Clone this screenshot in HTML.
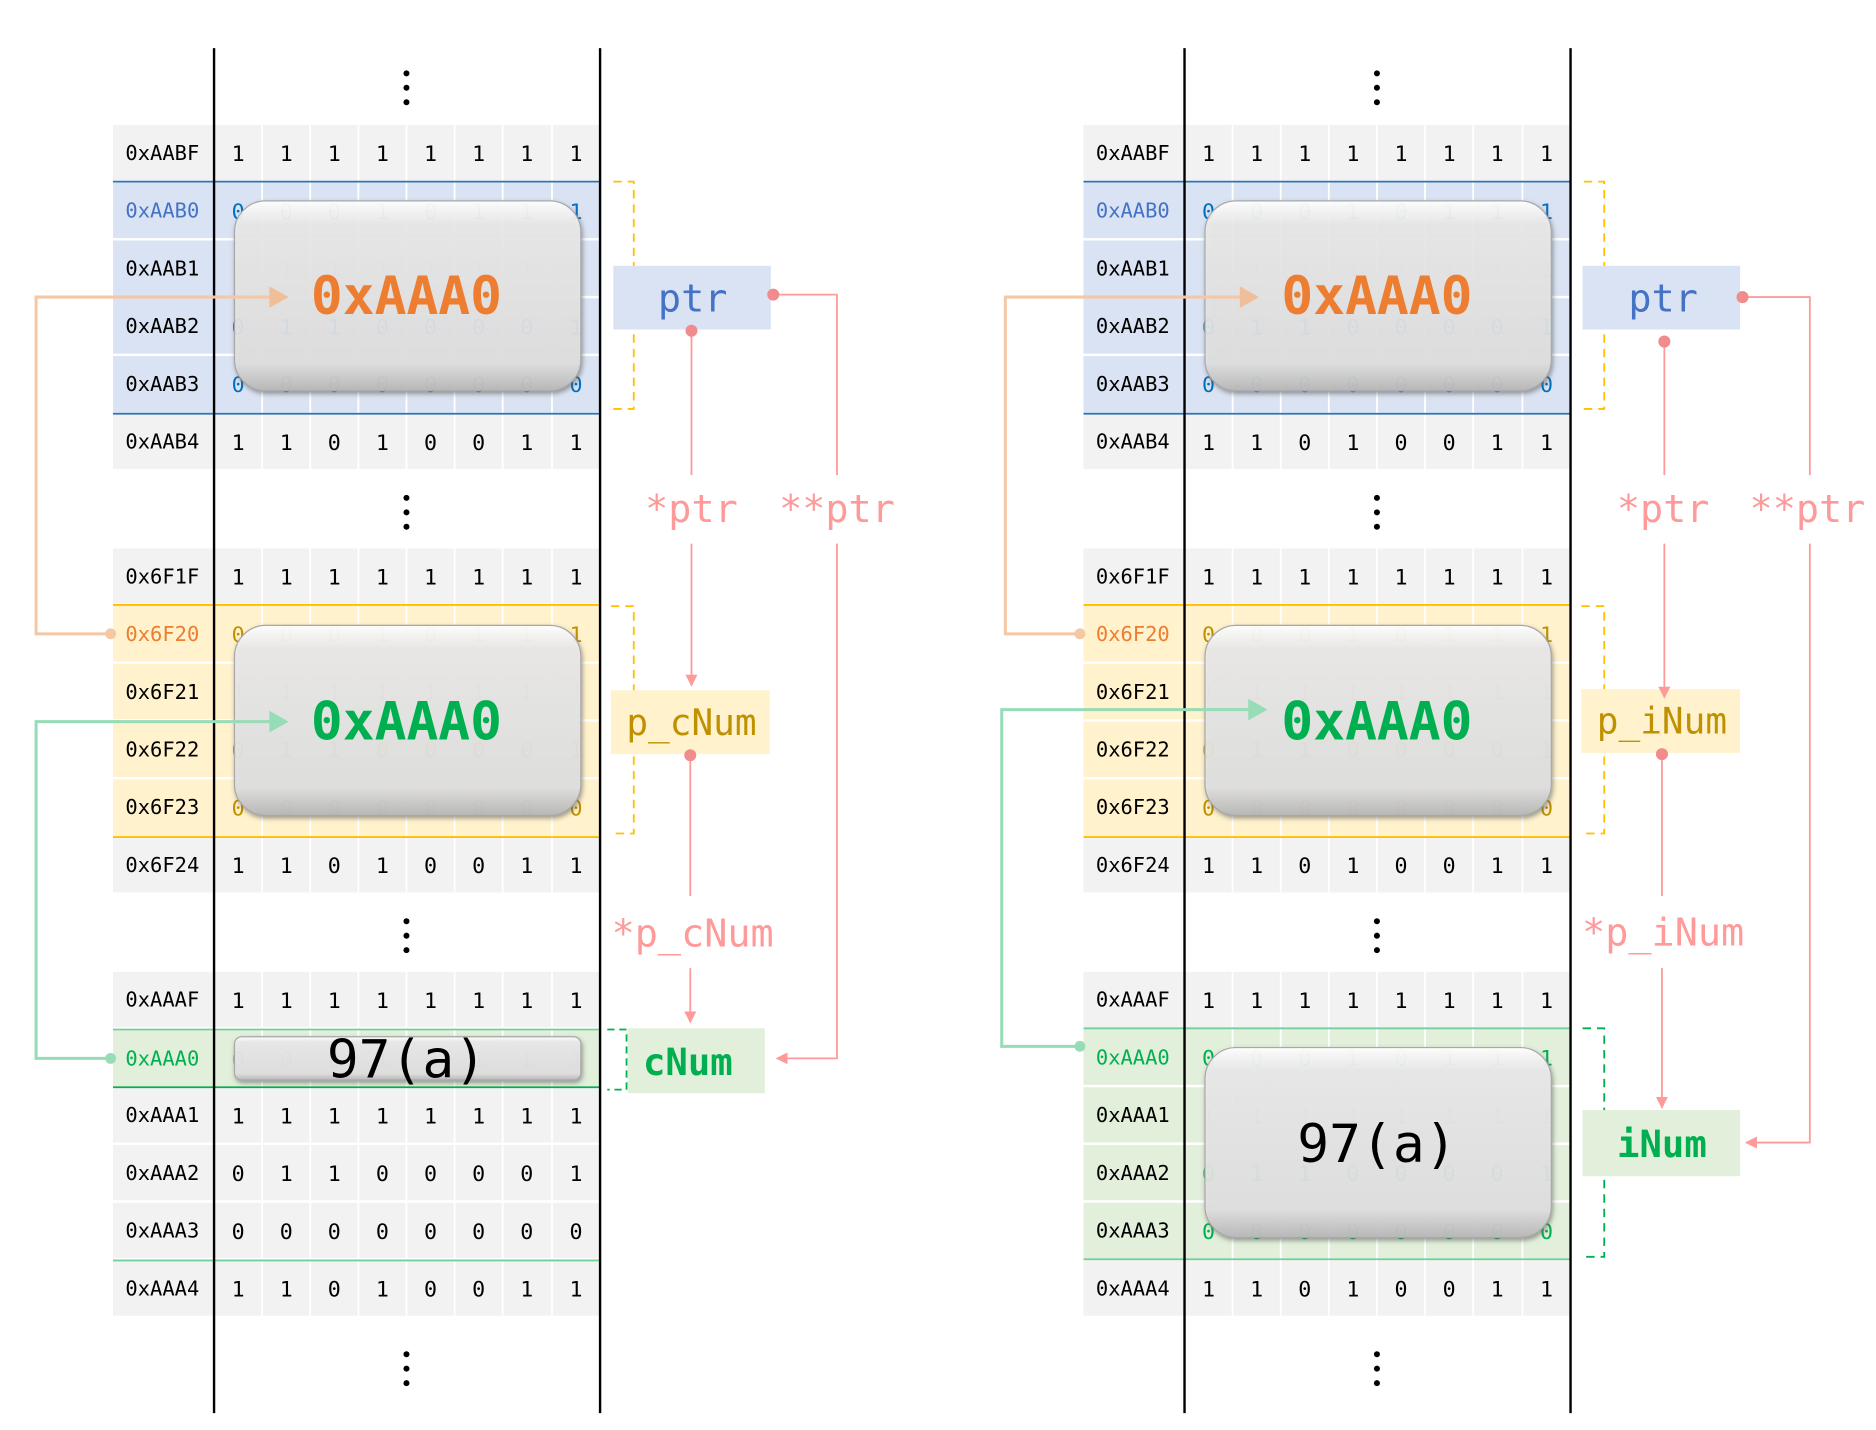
<!DOCTYPE html>
<html><head><meta charset="utf-8"><style>
html,body{margin:0;padding:0;background:#fff;}
svg{display:block;}
text{font-family:"DejaVu Sans Mono","Liberation Mono",monospace;}
</style></head><body>
<svg width="1876" height="1430" viewBox="0 0 1560 1189" preserveAspectRatio="none" xmlns="http://www.w3.org/2000/svg">
<defs>
<linearGradient id="gl" x1="0" y1="0" x2="0" y2="1">
<stop offset="0" stop-color="#ffffff" stop-opacity="0.95"/>
<stop offset="0.12" stop-color="#ececec" stop-opacity="0.9"/>
<stop offset="0.85" stop-color="#e2e2e2" stop-opacity="0.9"/>
<stop offset="1" stop-color="#b8b8b8" stop-opacity="0.95"/>
</linearGradient>
<filter id="sh" x="-10%" y="-10%" width="120%" height="130%"><feDropShadow dx="1" dy="2" stdDeviation="2" flood-color="#555" flood-opacity="0.6"/></filter>
<marker id="ap" markerWidth="10" markerHeight="10" refX="9" refY="5" orient="auto" markerUnits="userSpaceOnUse"><path d="M0,0 L10,5 L0,10 Z" fill="#ff9a9a"/></marker>
</defs>

<!-- ================= LEFT PANEL ================= -->
<g id="L">
<!-- row backgrounds -->
<g fill="#f2f2f2">
<rect x="94" y="104" width="405" height="46"/><rect x="94" y="344" width="405" height="46"/>
<rect x="94" y="456" width="405" height="46"/><rect x="94" y="696" width="405" height="46"/>
<rect x="94" y="808" width="405" height="46"/>
<rect x="94" y="904" width="405" height="46"/><rect x="94" y="952" width="405" height="46"/><rect x="94" y="1000" width="405" height="46"/><rect x="94" y="1048" width="405" height="46"/>
</g>
<rect x="94" y="151" width="405" height="193" fill="#dae3f3"/>
<rect x="94" y="503" width="405" height="193" fill="#fff2cc"/>
<rect x="94" y="856" width="405" height="48" fill="#e2efda"/>
<g stroke="#fff" stroke-width="2">
<line x1="94" y1="199" x2="499" y2="199"/><line x1="94" y1="247" x2="499" y2="247"/><line x1="94" y1="295" x2="499" y2="295"/>
<line x1="94" y1="551" x2="499" y2="551"/><line x1="94" y1="599" x2="499" y2="599"/><line x1="94" y1="647" x2="499" y2="647"/>
<line x1="94" y1="951" x2="499" y2="951"/><line x1="94" y1="999" x2="499" y2="999"/>
<g stroke-width="1.5">
<line x1="218" y1="104" x2="218" y2="390"/><line x1="258" y1="104" x2="258" y2="390"/><line x1="298" y1="104" x2="298" y2="390"/><line x1="338" y1="104" x2="338" y2="390"/><line x1="378" y1="104" x2="378" y2="390"/><line x1="418" y1="104" x2="418" y2="390"/><line x1="459" y1="104" x2="459" y2="390"/>
<line x1="218" y1="456" x2="218" y2="742"/><line x1="258" y1="456" x2="258" y2="742"/><line x1="298" y1="456" x2="298" y2="742"/><line x1="338" y1="456" x2="338" y2="742"/><line x1="378" y1="456" x2="378" y2="742"/><line x1="418" y1="456" x2="418" y2="742"/><line x1="459" y1="456" x2="459" y2="742"/>
<line x1="218" y1="808" x2="218" y2="1094"/><line x1="258" y1="808" x2="258" y2="1094"/><line x1="298" y1="808" x2="298" y2="1094"/><line x1="338" y1="808" x2="338" y2="1094"/><line x1="378" y1="808" x2="378" y2="1094"/><line x1="418" y1="808" x2="418" y2="1094"/><line x1="459" y1="808" x2="459" y2="1094"/>
</g></g>
<g stroke-width="1.5">
<line x1="94" y1="151" x2="499" y2="151" stroke="#2e75b6"/><line x1="94" y1="344" x2="499" y2="344" stroke="#2e75b6"/>
<line x1="94" y1="503" x2="499" y2="503" stroke="#ffc000"/><line x1="94" y1="696" x2="499" y2="696" stroke="#ffc000"/>
<line x1="94" y1="856" x2="499" y2="856" stroke="#70d09a"/><line x1="94" y1="904" x2="499" y2="904" stroke="#00b050"/><line x1="94" y1="1048" x2="499" y2="1048" stroke="#70d09a"/>
</g>
<line x1="178" y1="40" x2="178" y2="1175" stroke="#000" stroke-width="2"/>
<line x1="499" y1="40" x2="499" y2="1175" stroke="#000" stroke-width="2"/>
<g fill="#000"><circle cx="338" cy="61" r="2.5"/><circle cx="338" cy="73" r="2.5"/><circle cx="338" cy="85" r="2.5"/>
<circle cx="338" cy="414" r="2.5"/><circle cx="338" cy="426" r="2.5"/><circle cx="338" cy="438" r="2.5"/>
<circle cx="338" cy="766" r="2.5"/><circle cx="338" cy="778" r="2.5"/><circle cx="338" cy="790" r="2.5"/>
<circle cx="338" cy="1126" r="2.5"/><circle cx="338" cy="1138" r="2.5"/><circle cx="338" cy="1150" r="2.5"/></g>
<g font-size="17" text-anchor="middle">
<text x="135" y="133">0xAABF</text><text x="135" y="181" fill="#4472c4">0xAAB0</text><text x="135" y="229">0xAAB1</text><text x="135" y="277">0xAAB2</text><text x="135" y="325">0xAAB3</text><text x="135" y="373">0xAAB4</text>
<text x="135" y="485">0x6F1F</text><text x="135" y="533" fill="#ed7d31">0x6F20</text><text x="135" y="581">0x6F21</text><text x="135" y="629">0x6F22</text><text x="135" y="677">0x6F23</text><text x="135" y="725">0x6F24</text>
<text x="135" y="837">0xAAAF</text><text x="135" y="886" fill="#00b050">0xAAA0</text><text x="135" y="933">0xAAA1</text><text x="135" y="981">0xAAA2</text><text x="135" y="1029">0xAAA3</text><text x="135" y="1077">0xAAA4</text>
</g>
<g font-size="18" text-anchor="middle">
<text x="198 238 278 318 358 398 438 479" y="134">11111111</text>
<text x="198 238 278 318 358 398 438 479" y="182" fill="#0070c0">00010111</text>
<text x="198 238 278 318 358 398 438 479" y="230" fill="#9db6cf">11111111</text>
<text x="198 238 278 318 358 398 438 479" y="278" fill="#0070c0">01100001</text>
<text x="198 238 278 318 358 398 438 479" y="326" fill="#0070c0">00000000</text>
<text x="198 238 278 318 358 398 438 479" y="374">11010011</text>
<text x="198 238 278 318 358 398 438 479" y="486">11111111</text>
<text x="198 238 278 318 358 398 438 479" y="534" fill="#c09000">00010111</text>
<text x="198 238 278 318 358 398 438 479" y="582" fill="#c8b890">11111111</text>
<text x="198 238 278 318 358 398 438 479" y="630" fill="#c09000">01100001</text>
<text x="198 238 278 318 358 398 438 479" y="678" fill="#c09000">00000000</text>
<text x="198 238 278 318 358 398 438 479" y="726">11010011</text>
<text x="198 238 278 318 358 398 438 479" y="838">11111111</text>
<text x="198 238 278 318 358 398 438 479" y="887" fill="#80c0a0">00010111</text>
<text x="198 238 278 318 358 398 438 479" y="934">11111111</text>
<text x="198 238 278 318 358 398 438 479" y="982">01100001</text>
<text x="198 238 278 318 358 398 438 479" y="1030">00000000</text>
<text x="198 238 278 318 358 398 438 479" y="1078">11010011</text>
</g>
<!-- glass boxes -->
<rect x="195" y="167" width="288" height="158" rx="26" fill="url(#gl)" stroke="#a8a8a8" filter="url(#sh)"/>
<rect x="195" y="520" width="288" height="158" rx="26" fill="url(#gl)" stroke="#a8a8a8" filter="url(#sh)"/>
<rect x="195" y="862" width="288" height="36" rx="6" fill="url(#gl)" stroke="#a8a8a8" filter="url(#sh)"/>
<text x="338" y="261" font-size="44" font-weight="bold" fill="#ed7d31" text-anchor="middle">0xAAA0</text>
<text x="338" y="615" font-size="44" font-weight="bold" fill="#00b050" text-anchor="middle">0xAAA0</text>
<text x="338" y="896" font-size="44" fill="#000" text-anchor="middle">97(a)</text>
<!-- left connectors -->
<path d="M92,527 H30 V247 H226" fill="none" stroke="#f4c7a5" stroke-width="2.5"/>
<path d="M224,238 L240,247 L224,256 Z" fill="#f0bf9a"/>
<circle cx="92" cy="527" r="4.5" fill="#f4c7a5"/>
<path d="M92,880 H30 V600 H226" fill="none" stroke="#96dcb6" stroke-width="2.5"/>
<path d="M224,591 L240,600 L224,609 Z" fill="#96dcb6"/>
<circle cx="92" cy="880" r="4.5" fill="#96dcb6"/>
<!-- brackets -->
<path d="M510,151 H527 V340 H510" fill="none" stroke="#ffc000" stroke-width="1.5" stroke-dasharray="7,5"/>
<path d="M508,504 H527 V693 H508" fill="none" stroke="#ffc000" stroke-width="1.5" stroke-dasharray="7,5"/>
<path d="M505,856 H521 V906 H505" fill="none" stroke="#00b050" stroke-width="1.5" stroke-dasharray="6,4"/>
<!-- labels -->
<rect x="510" y="221" width="131" height="53" fill="#dae3f3"/>
<text x="576" y="259" font-size="32" fill="#4472c4" text-anchor="middle">ptr</text>
<rect x="508" y="574" width="132" height="53" fill="#fff2cc"/>
<text x="575" y="611" font-size="30" fill="#bf9000" text-anchor="middle">p_cNum</text>
<rect x="522" y="855" width="114" height="54" fill="#e2efda"/>
<text x="572" y="894" font-size="31" font-weight="bold" fill="#00b050" text-anchor="middle">cNum</text>
<g fill="none" stroke="#ff9a9a" stroke-width="1.5">
<path d="M643,245 H696 V395"/><path d="M696,452 V880 H646" marker-end="url(#ap)"/>
<path d="M575,275 V395"/><path d="M575,452 V570" marker-end="url(#ap)"/>
<path d="M574,628 V745"/><path d="M574,805 V850" marker-end="url(#ap)"/>
</g>
<g fill="#f28b8b"><circle cx="643" cy="245" r="5"/><circle cx="575" cy="275" r="5"/><circle cx="574" cy="628" r="5"/></g>
<g font-size="32" fill="#ff9a9a" text-anchor="middle">
<text x="575" y="434">*ptr</text><text x="696" y="434">**ptr</text><text x="576" y="787">*p_cNum</text>
</g>
</g>

<!-- ================= RIGHT PANEL ================= -->
<g transform="translate(807,0)">
<g fill="#f2f2f2">
<rect x="94" y="104" width="405" height="46"/><rect x="94" y="344" width="405" height="46"/>
<rect x="94" y="456" width="405" height="46"/><rect x="94" y="696" width="405" height="46"/>
<rect x="94" y="808" width="405" height="46"/>
<rect x="94" y="1048" width="405" height="46"/>
</g>
<rect x="94" y="151" width="405" height="193" fill="#dae3f3"/>
<rect x="94" y="503" width="405" height="193" fill="#fff2cc"/>
<rect x="94" y="855" width="405" height="193" fill="#e2efda"/>
<g stroke="#fff" stroke-width="2">
<line x1="94" y1="199" x2="499" y2="199"/><line x1="94" y1="247" x2="499" y2="247"/><line x1="94" y1="295" x2="499" y2="295"/>
<line x1="94" y1="551" x2="499" y2="551"/><line x1="94" y1="599" x2="499" y2="599"/><line x1="94" y1="647" x2="499" y2="647"/>
<line x1="94" y1="903" x2="499" y2="903"/><line x1="94" y1="951" x2="499" y2="951"/><line x1="94" y1="999" x2="499" y2="999"/>
<g stroke-width="1.5">
<line x1="218" y1="104" x2="218" y2="390"/><line x1="258" y1="104" x2="258" y2="390"/><line x1="298" y1="104" x2="298" y2="390"/><line x1="338" y1="104" x2="338" y2="390"/><line x1="378" y1="104" x2="378" y2="390"/><line x1="418" y1="104" x2="418" y2="390"/><line x1="459" y1="104" x2="459" y2="390"/>
<line x1="218" y1="456" x2="218" y2="742"/><line x1="258" y1="456" x2="258" y2="742"/><line x1="298" y1="456" x2="298" y2="742"/><line x1="338" y1="456" x2="338" y2="742"/><line x1="378" y1="456" x2="378" y2="742"/><line x1="418" y1="456" x2="418" y2="742"/><line x1="459" y1="456" x2="459" y2="742"/>
<line x1="218" y1="808" x2="218" y2="1094"/><line x1="258" y1="808" x2="258" y2="1094"/><line x1="298" y1="808" x2="298" y2="1094"/><line x1="338" y1="808" x2="338" y2="1094"/><line x1="378" y1="808" x2="378" y2="1094"/><line x1="418" y1="808" x2="418" y2="1094"/><line x1="459" y1="808" x2="459" y2="1094"/>
</g></g>
<g stroke-width="1.5">
<line x1="94" y1="151" x2="499" y2="151" stroke="#2e75b6"/><line x1="94" y1="344" x2="499" y2="344" stroke="#2e75b6"/>
<line x1="94" y1="503" x2="499" y2="503" stroke="#ffc000"/><line x1="94" y1="696" x2="499" y2="696" stroke="#ffc000"/>
<line x1="94" y1="855" x2="499" y2="855" stroke="#70d09a"/><line x1="94" y1="1047" x2="499" y2="1047" stroke="#70d09a"/>
</g>
<line x1="178" y1="40" x2="178" y2="1175" stroke="#000" stroke-width="2"/>
<line x1="499" y1="40" x2="499" y2="1175" stroke="#000" stroke-width="2"/>
<g fill="#000"><circle cx="338" cy="61" r="2.5"/><circle cx="338" cy="73" r="2.5"/><circle cx="338" cy="85" r="2.5"/>
<circle cx="338" cy="414" r="2.5"/><circle cx="338" cy="426" r="2.5"/><circle cx="338" cy="438" r="2.5"/>
<circle cx="338" cy="766" r="2.5"/><circle cx="338" cy="778" r="2.5"/><circle cx="338" cy="790" r="2.5"/>
<circle cx="338" cy="1126" r="2.5"/><circle cx="338" cy="1138" r="2.5"/><circle cx="338" cy="1150" r="2.5"/></g>
<g font-size="17" text-anchor="middle">
<text x="135" y="133">0xAABF</text><text x="135" y="181" fill="#4472c4">0xAAB0</text><text x="135" y="229">0xAAB1</text><text x="135" y="277">0xAAB2</text><text x="135" y="325">0xAAB3</text><text x="135" y="373">0xAAB4</text>
<text x="135" y="485">0x6F1F</text><text x="135" y="533" fill="#ed7d31">0x6F20</text><text x="135" y="581">0x6F21</text><text x="135" y="629">0x6F22</text><text x="135" y="677">0x6F23</text><text x="135" y="725">0x6F24</text>
<text x="135" y="837">0xAAAF</text><text x="135" y="885" fill="#00b050">0xAAA0</text><text x="135" y="933">0xAAA1</text><text x="135" y="981">0xAAA2</text><text x="135" y="1029">0xAAA3</text><text x="135" y="1077">0xAAA4</text>
</g>
<g font-size="18" text-anchor="middle">
<text x="198 238 278 318 358 398 438 479" y="134">11111111</text>
<text x="198 238 278 318 358 398 438 479" y="182" fill="#0070c0">00010111</text>
<text x="198 238 278 318 358 398 438 479" y="230" fill="#9db6cf">11111111</text>
<text x="198 238 278 318 358 398 438 479" y="278" fill="#0070c0">01100001</text>
<text x="198 238 278 318 358 398 438 479" y="326" fill="#0070c0">00000000</text>
<text x="198 238 278 318 358 398 438 479" y="374">11010011</text>
<text x="198 238 278 318 358 398 438 479" y="486">11111111</text>
<text x="198 238 278 318 358 398 438 479" y="534" fill="#c09000">00010111</text>
<text x="198 238 278 318 358 398 438 479" y="582" fill="#c8b890">11111111</text>
<text x="198 238 278 318 358 398 438 479" y="630" fill="#c09000">01100001</text>
<text x="198 238 278 318 358 398 438 479" y="678" fill="#c09000">00000000</text>
<text x="198 238 278 318 358 398 438 479" y="726">11010011</text>
<text x="198 238 278 318 358 398 438 479" y="838">11111111</text>
<text x="198 238 278 318 358 398 438 479" y="886" fill="#00b050">00010111</text>
<text x="198 238 278 318 358 398 438 479" y="934" fill="#a0d0b0">11111111</text>
<text x="198 238 278 318 358 398 438 479" y="982" fill="#00b050">01100001</text>
<text x="198 238 278 318 358 398 438 479" y="1030" fill="#00b050">00000000</text>
<text x="198 238 278 318 358 398 438 479" y="1078">11010011</text>
</g>
<rect x="195" y="167" width="288" height="158" rx="26" fill="url(#gl)" stroke="#a8a8a8" filter="url(#sh)"/>
<rect x="195" y="520" width="288" height="158" rx="26" fill="url(#gl)" stroke="#a8a8a8" filter="url(#sh)"/>
<rect x="195" y="871" width="288" height="158" rx="26" fill="url(#gl)" stroke="#a8a8a8" filter="url(#sh)"/>
<text x="338" y="261" font-size="44" font-weight="bold" fill="#ed7d31" text-anchor="middle">0xAAA0</text>
<text x="338" y="615" font-size="44" font-weight="bold" fill="#00b050" text-anchor="middle">0xAAA0</text>
<text x="338" y="966" font-size="44" fill="#000" text-anchor="middle">97(a)</text>
<path d="M91,527 H29 V247 H226" fill="none" stroke="#f4c7a5" stroke-width="2.5"/>
<path d="M224,238 L240,247 L224,256 Z" fill="#f0bf9a"/>
<circle cx="91" cy="527" r="4.5" fill="#f4c7a5"/>
<path d="M91,870 H26 V590 H233" fill="none" stroke="#96dcb6" stroke-width="2.5"/>
<path d="M231,581 L247,590 L231,599 Z" fill="#96dcb6"/>
<circle cx="91" cy="870" r="4.5" fill="#96dcb6"/>
<path d="M510,151 H527 V340 H510" fill="none" stroke="#ffc000" stroke-width="1.5" stroke-dasharray="7,5"/>
<path d="M508,504 H527 V693 H508" fill="none" stroke="#ffc000" stroke-width="1.5" stroke-dasharray="7,5"/>
<path d="M509,855 H527 V1045 H509" fill="none" stroke="#00b050" stroke-width="1.5" stroke-dasharray="7,5"/>
<rect x="509" y="221" width="131" height="53" fill="#dae3f3"/>
<text x="576" y="259" font-size="32" fill="#4472c4" text-anchor="middle">ptr</text>
<rect x="508" y="573" width="132" height="53" fill="#fff2cc"/>
<text x="575" y="610" font-size="30" fill="#bf9000" text-anchor="middle">p_iNum</text>
<rect x="509" y="923" width="131" height="55" fill="#e2efda"/>
<text x="575" y="962" font-size="31" font-weight="bold" fill="#00b050" text-anchor="middle">iNum</text>
<g fill="none" stroke="#ff9a9a" stroke-width="1.5">
<path d="M642,247 H698 V395"/><path d="M698,452 V950 H645" marker-end="url(#ap)"/>
<path d="M577,284 V395"/><path d="M577,452 V580" marker-end="url(#ap)"/>
<path d="M575,627 V745"/><path d="M575,805 V921" marker-end="url(#ap)"/>
</g>
<g fill="#f28b8b"><circle cx="642" cy="247" r="5"/><circle cx="577" cy="284" r="5"/><circle cx="575" cy="627" r="5"/></g>
<g font-size="32" fill="#ff9a9a" text-anchor="middle">
<text x="576" y="434">*ptr</text><text x="696" y="434">**ptr</text><text x="576" y="786">*p_iNum</text>
</g>
</g>
</svg>
</body></html>
